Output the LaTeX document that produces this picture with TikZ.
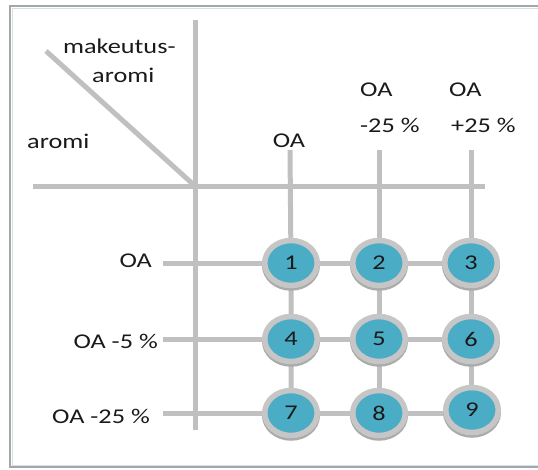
\documentclass[tikz,border=0pt]{standalone}
\usepackage{fontspec}
\setmainfont{Carlito}[FakeStretch=1.25]
\usetikzlibrary{shapes.geometric,backgrounds}
\definecolor{railgray}{HTML}{C0C0C0}
\definecolor{ringgray}{HTML}{C6C6C6}
\definecolor{ringdark}{HTML}{ABABAB}
\definecolor{cellblue}{HTML}{4BACC6}
\definecolor{ink}{HTML}{1A1A1A}
\definecolor{framegray}{HTML}{A6A6A6}
\definecolor{frameblue}{HTML}{D3E1EA}
\tikzset{lab/.style={text=ink,font=\fontsize{21}{26}\selectfont,inner sep=0pt},
  rail/.style={draw=railgray,line width=5pt},
  cell/.style={ellipse,fill=cellblue,draw=ringgray,line width=5.5pt,minimum width=52.5pt,minimum height=45pt,inner sep=0pt,
    text=ink,font=\fontsize{21}{26}\selectfont,preaction={draw=ringdark,line width=5.5pt,transform canvas={yshift=-2.5pt}}}}

\begin{document}
\begin{tikzpicture}[x=1pt,y=-1pt]
\useasboundingbox (0,0) rectangle (538,469);
% frame
\draw[framegray,line width=1.5pt] (540,6)--(10,6)--(10,467)--(540,467);
\draw[frameblue,line width=1pt] (540,8)--(12,8)--(12,465)--(540,465);
% table axes
\draw[rail] (195,20)--(195,430); \draw[rail] (33,186)--(485,186); \draw[rail] (46,51)--(195,186);
\node[lab,anchor=base west] (mk) at (63,53) {makeutus-};
\node[lab,anchor=base west] (mka) at (92,82) {aromi};
\node[lab,anchor=base west] (ar) at (27,148) {aromi};
% column heads
\node[lab,anchor=base] (h1) at (289,147) {OA};
\node[lab,anchor=base west] (h2) at (360,96) {OA}; \node[lab,anchor=base west] (h2b) at (360,132) {-25 \%};
\node[lab,anchor=base west] (h3) at (449,96) {OA}; \node[lab,anchor=base west] (h3b) at (451,132) {+25 \%};
% row heads
\node[lab,anchor=base east] (r1) at (152,267) {OA};
\node[lab,anchor=base east] (r2) at (158,348) {OA -5 \%};
\node[lab,anchor=base east] (r3) at (150,423) {OA -25 \%};
% cells
\node[cell] (c1) at (291,263) {1}; \node[cell] (c2) at (379,263) {2}; \node[cell] (c3) at (471,263) {3};
\node[cell] (c4) at (291,339) {4}; \node[cell] (c5) at (379,339) {5}; \node[cell] (c6) at (471,339) {6};
\node[cell] (c7) at (291,413) {7}; \node[cell] (c8) at (379,413) {8}; \node[cell] (c9) at (472,410) {9};
\coordinate (t1) at (290,150); \coordinate (t2) at (379,150); \coordinate (t3) at (471,150);
\coordinate (s1) at (163,263); \coordinate (s2) at (163,339); \coordinate (s3) at (163,413);
\begin{pgfonlayer}{background}
\draw[rail] (s1)--(c1)--(c2)--(c3); \draw[rail] (s2)--(c4)--(c5)--(c6); \draw[rail] (s3)--(c7)--(c8)--(c8-|c9);
\draw[rail] (t1)--(c1)--(c4)--(c7); \draw[rail] (t2)--(c2)--(c5)--(c8); \draw[rail] (t3)--(c3)--(c6)--(c6|-c9);
\end{pgfonlayer}
\end{tikzpicture}
\end{document}
